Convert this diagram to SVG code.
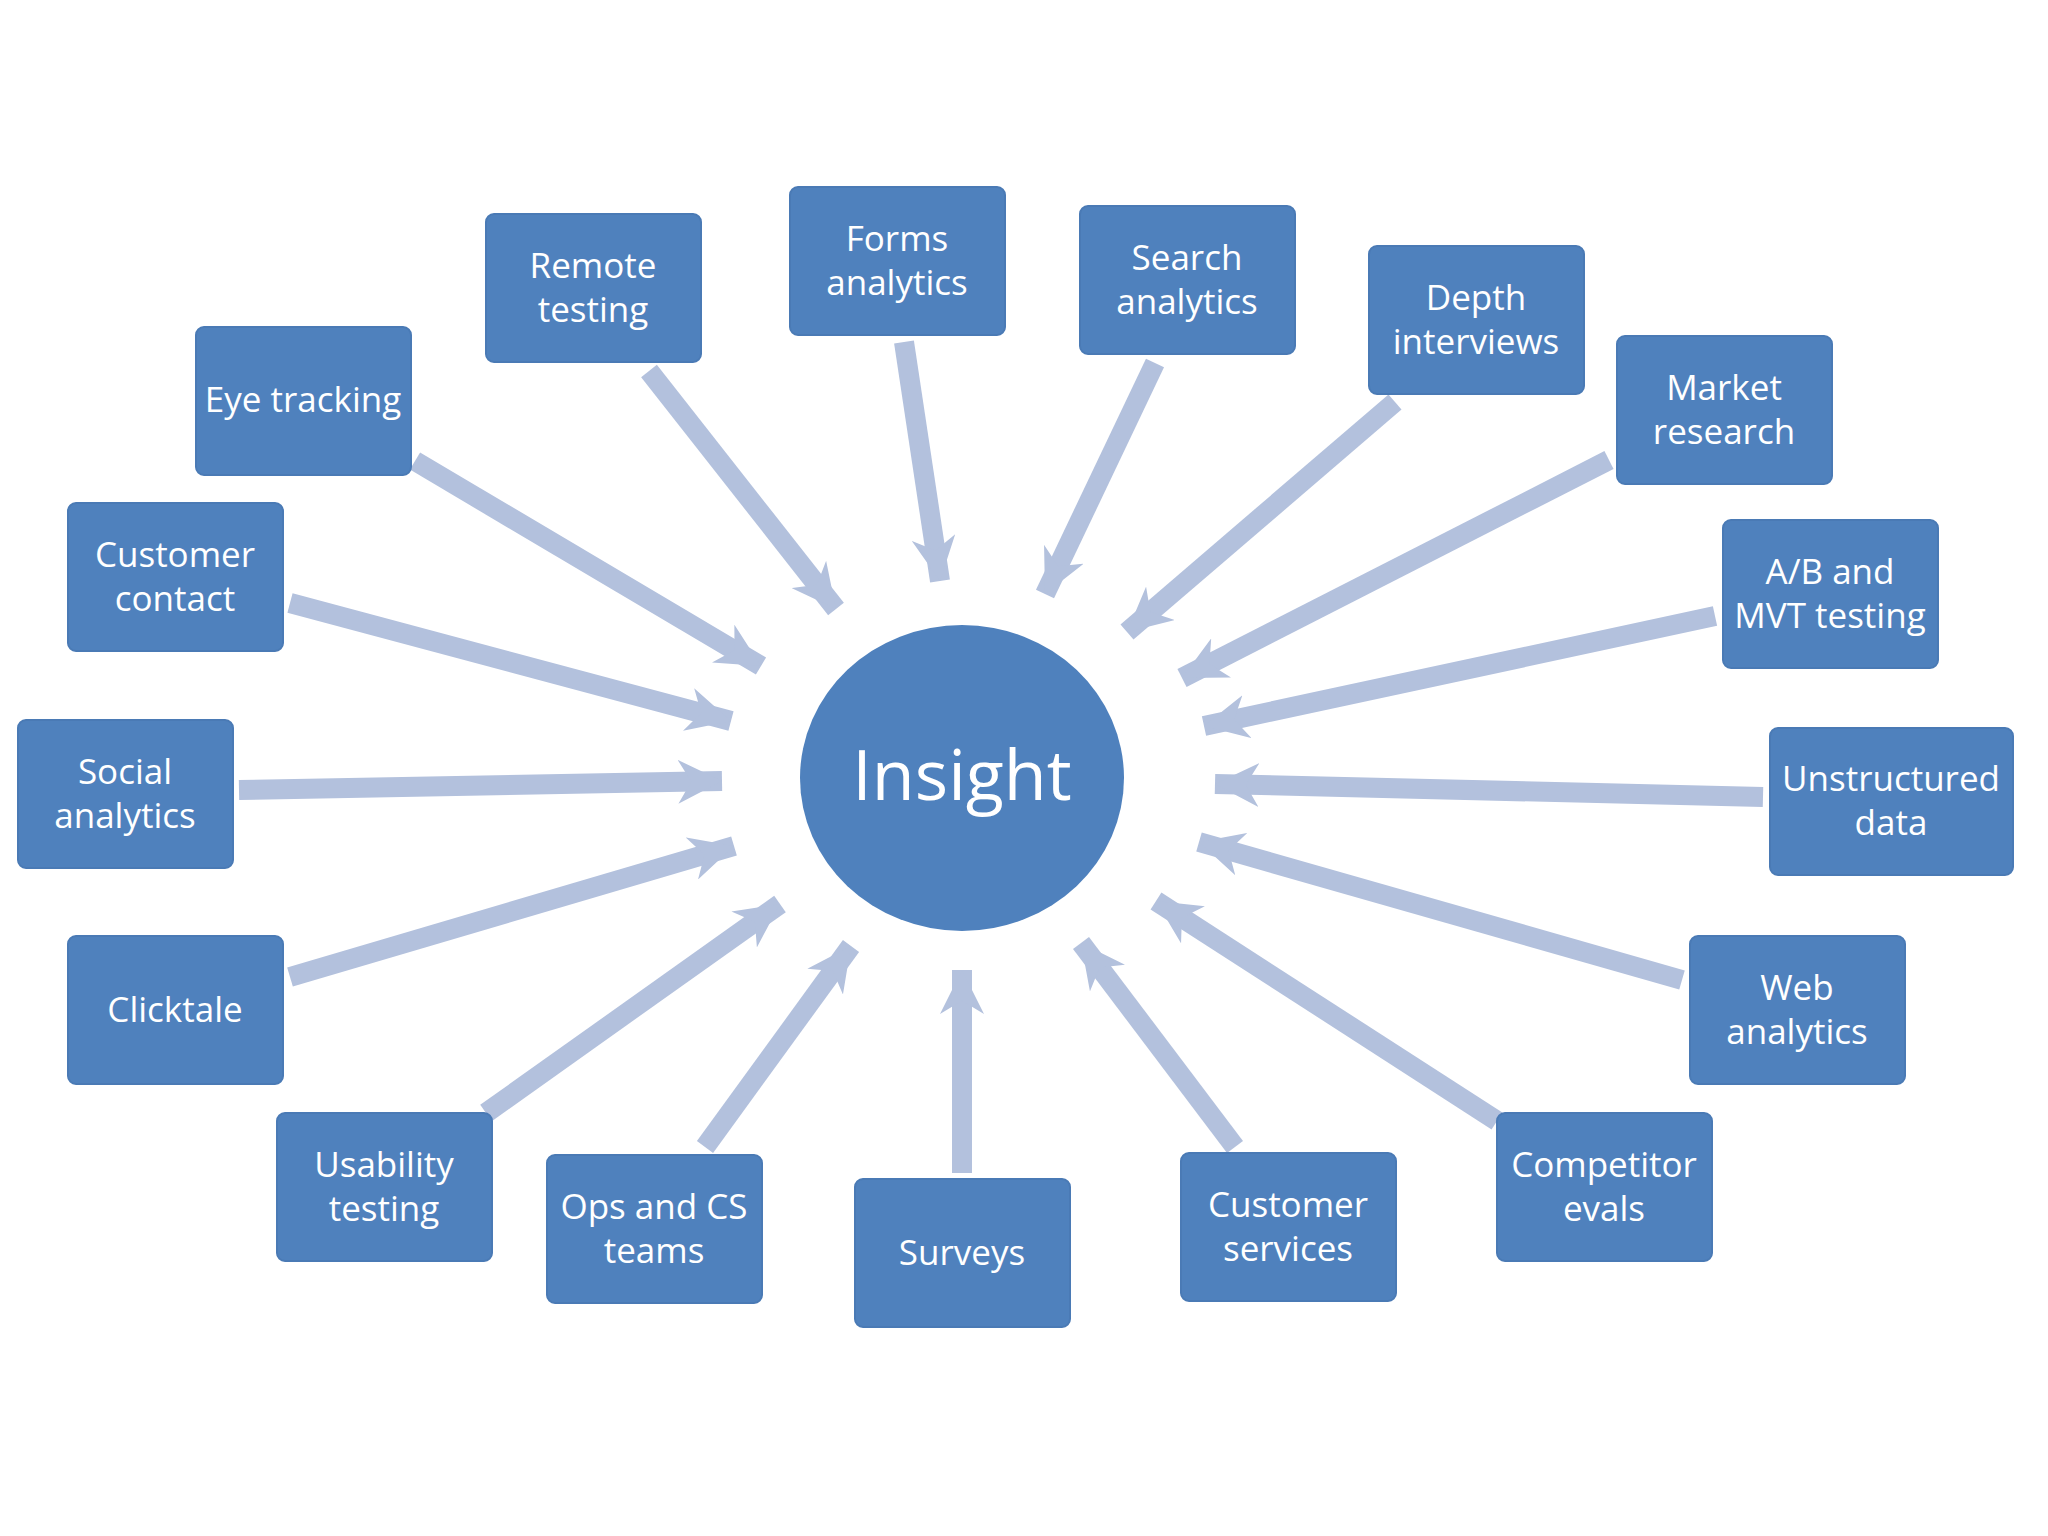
<svg xmlns="http://www.w3.org/2000/svg" width="2048" height="1536" viewBox="0 0 2048 1536">
<style>
.b{fill:#4F81BD;stroke:#4A7AB5;stroke-width:2}
.t{fill:#fff;font-family:"Open Sans","Noto Sans",sans-serif;font-size:35px;text-anchor:middle}
.a{stroke:#B3C1DD;stroke-width:20;fill:none;marker-end:url(#h)}
</style>
<defs><marker id="h" viewBox="0 0 10 10" refX="10" refY="5" markerWidth="2.2" markerHeight="2.2" orient="auto"><path d="M0,0 L10,5 L0,10 L3,5 z" fill="#B3C1DD"/></marker></defs>
<rect width="2048" height="1536" fill="#fff"/>
<g id="connectors">
<line class="a" x1="649" y1="371" x2="836" y2="609"/>
<line class="a" x1="904" y1="342" x2="940" y2="581"/>
<line class="a" x1="1155" y1="363" x2="1045" y2="594"/>
<line class="a" x1="1395" y1="402" x2="1127" y2="632"/>
<line class="a" x1="1609" y1="460" x2="1182" y2="678"/>
<line class="a" x1="1715" y1="616" x2="1204" y2="726"/>
<line class="a" x1="1763" y1="797" x2="1215" y2="784"/>
<line class="a" x1="1682" y1="980" x2="1199" y2="842"/>
<line class="a" x1="1497" y1="1121" x2="1156" y2="901"/>
<line class="a" x1="1235" y1="1147" x2="1081" y2="943"/>
<line class="a" x1="962" y1="1173" x2="962" y2="970"/>
<line class="a" x1="705" y1="1147" x2="851" y2="946"/>
<line class="a" x1="486" y1="1113" x2="780" y2="904"/>
<line class="a" x1="290" y1="977" x2="734" y2="846"/>
<line class="a" x1="239" y1="790" x2="722" y2="781"/>
<line class="a" x1="290" y1="603" x2="731" y2="721"/>
<line class="a" x1="415" y1="461" x2="761" y2="666"/>
</g>
<g id="insight"><ellipse cx="962" cy="778" rx="162" ry="153" fill="#4F81BD"/><text x="962" y="800" class="t" style="font-size:70px">Insight</text></g>
<g id="remote"><rect class="b" x="486" y="214" width="215" height="148" rx="8"/><text class="t" x="593" y="278">Remote</text><text class="t" x="593" y="322">testing</text></g>
<g id="forms"><rect class="b" x="790" y="187" width="215" height="148" rx="8"/><text class="t" x="897" y="251">Forms</text><text class="t" x="897" y="295">analytics</text></g>
<g id="search"><rect class="b" x="1080" y="206" width="215" height="148" rx="8"/><text class="t" x="1187" y="270">Search</text><text class="t" x="1187" y="314">analytics</text></g>
<g id="depth"><rect class="b" x="1369" y="246" width="215" height="148" rx="8"/><text class="t" x="1476" y="310">Depth</text><text class="t" x="1476" y="354">interviews</text></g>
<g id="market"><rect class="b" x="1617" y="336" width="215" height="148" rx="8"/><text class="t" x="1724" y="400">Market</text><text class="t" x="1724" y="444">research</text></g>
<g id="ab"><rect class="b" x="1723" y="520" width="215" height="148" rx="8"/><text class="t" x="1830" y="584">A/B and</text><text class="t" x="1830" y="628">MVT testing</text></g>
<g id="unstructured"><rect class="b" x="1770" y="728" width="243" height="147" rx="8"/><text class="t" x="1891" y="791">Unstructured</text><text class="t" x="1891" y="835">data</text></g>
<g id="web"><rect class="b" x="1690" y="936" width="215" height="148" rx="8"/><text class="t" x="1797" y="1000">Web</text><text class="t" x="1797" y="1044">analytics</text></g>
<g id="competitor"><rect class="b" x="1497" y="1113" width="215" height="148" rx="8"/><text class="t" x="1604" y="1177">Competitor</text><text class="t" x="1604" y="1221">evals</text></g>
<g id="custserv"><rect class="b" x="1181" y="1153" width="215" height="148" rx="8"/><text class="t" x="1288" y="1217">Customer</text><text class="t" x="1288" y="1261">services</text></g>
<g id="surveys"><rect class="b" x="855" y="1179" width="215" height="148" rx="8"/><text class="t" x="962" y="1265">Surveys</text></g>
<g id="ops"><rect class="b" x="547" y="1155" width="215" height="148" rx="8"/><text class="t" x="654" y="1219">Ops and CS</text><text class="t" x="654" y="1263">teams</text></g>
<g id="usability"><rect class="b" x="277" y="1113" width="215" height="148" rx="8"/><text class="t" x="384" y="1177">Usability</text><text class="t" x="384" y="1221">testing</text></g>
<g id="clicktale"><rect class="b" x="68" y="936" width="215" height="148" rx="8"/><text class="t" x="175" y="1022">Clicktale</text></g>
<g id="social"><rect class="b" x="18" y="720" width="215" height="148" rx="8"/><text class="t" x="125" y="784">Social</text><text class="t" x="125" y="828">analytics</text></g>
<g id="custcontact"><rect class="b" x="68" y="503" width="215" height="148" rx="8"/><text class="t" x="175" y="567">Customer</text><text class="t" x="175" y="611">contact</text></g>
<g id="eye"><rect class="b" x="196" y="327" width="215" height="148" rx="8"/><text class="t" x="303" y="412">Eye tracking</text></g>
</svg>
